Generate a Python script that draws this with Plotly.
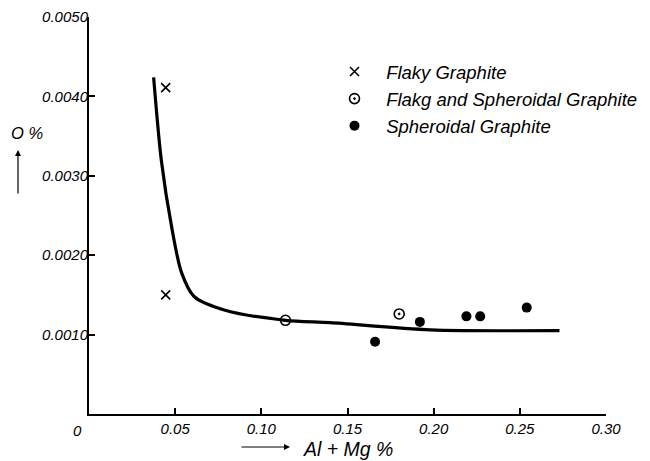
import plotly.graph_objects as go

# Data
flaky_x = [0.0445, 0.0445]
flaky_y = [0.00411, 0.00150]

mixed_x = [0.114, 0.180]
mixed_y = [0.00118, 0.00126]

spher_x = [0.166, 0.192, 0.219, 0.227, 0.254]
spher_y = [0.00091, 0.00116, 0.00123, 0.00123, 0.00134]

curve_x = [0.0375, 0.042, 0.048, 0.0537, 0.061, 0.0785, 0.114, 0.140, 0.198, 0.273]
curve_y = [0.00424, 0.00319, 0.00235, 0.00178, 0.00148, 0.00131, 0.00118, 0.00115, 0.00106, 0.00105]

x_ticks = [0.05, 0.10, 0.15, 0.20, 0.25, 0.30]
x_labels = ["0.05", "0.10", "0.15", "0.20", "0.25", "0.30"]
y_ticks = [0.0010, 0.0020, 0.0030, 0.0040, 0.0050]
y_labels = ["0.0010", "0.0020", "0.0030", "0.0040", "0.0050"]

FONT = "Liberation Sans, Arial"

# page body has an 8px margin; plot area target in window px: x 89..606, y 17..414
L, R, T, B = 89, 606, 17, 414
OFF = 8


def px(x):
    return (x - L) / (R - L)


def py(y):
    return (B - y) / (B - T)


NB = "\u00a0"

fig = go.Figure()
fig.add_trace(go.Scatter(x=curve_x, y=curve_y, mode="lines",
                         line=dict(color="black", width=3.2, shape="spline", smoothing=0.8),
                         showlegend=False, hoverinfo="skip"))
fig.add_trace(go.Scatter(x=flaky_x, y=flaky_y, mode="markers", name=NB + "Flaky Graphite", legendgroup="a",
                         marker=dict(symbol="x-thin", size=9, line=dict(color="black", width=1.6), color="black")))
fig.add_trace(go.Scatter(x=mixed_x, y=mixed_y, mode="markers", name=NB + "Flakg and Spheroidal Graphite",
                         legendgroup="b",
                         marker=dict(symbol="circle-open-dot", size=10, line=dict(color="black", width=1.6),
                                     color="black")))
fig.add_trace(go.Scatter(x=spher_x, y=spher_y, mode="markers", name=NB + "Spheroidal Graphite", legendgroup="c",
                         marker=dict(symbol="circle", size=10, color="black")))

fig.update_layout(
    width=650, height=461,
    margin=dict(l=L - OFF, r=650 - (R - OFF), t=T - OFF, b=461 - (B - OFF), autoexpand=False),
    plot_bgcolor="white", paper_bgcolor="white",
    font=dict(family=FONT, size=15, color="black", style="italic"),
    legend=dict(x=px(328), y=py(53), xanchor="left", yanchor="top", bgcolor="rgba(0,0,0,0)",
                traceorder="grouped", tracegroupgap=0, itemwidth=43,
                font=dict(size=18.5, style="italic")),
    xaxis=dict(range=[0, 0.30], tickvals=x_ticks, ticktext=x_labels, showline=True, linecolor="black",
               linewidth=2, ticks="inside", ticklen=6, tickwidth=1.5, tickcolor="black", showgrid=False,
               zeroline=False, automargin=False, ticklabeloverflow="allow",
               tickfont=dict(family=FONT, size=15, style="italic")),
    yaxis=dict(range=[0, 0.005], tickvals=y_ticks, ticktext=y_labels, showline=True, linecolor="black",
               linewidth=2, ticks="inside", ticklen=6, tickwidth=1.5, tickcolor="black", showgrid=False,
               zeroline=False, automargin=False, ticklabeloverflow="allow", ticklabelstandoff=-4,
               tickfont=dict(family=FONT, size=15, style="italic")),
)

# origin label, axis titles with arrows
fig.add_annotation(xref="paper", yref="paper", x=px(77), y=py(430), text="0", showarrow=False,
                   xanchor="center", yanchor="middle", font=dict(size=15, style="italic"))
fig.add_annotation(xref="paper", yref="paper", x=px(348), y=py(449), text="Al + Mg %",
                   xanchor="center", yanchor="middle", showarrow=False, font=dict(size=19.5, style="italic"))
fig.add_annotation(xref="paper", yref="paper", x=px(290), y=py(447), text="",
                   showarrow=True, ax=-50, ay=0, arrowhead=2, arrowsize=1, arrowwidth=1.2, arrowcolor="black")
fig.add_annotation(xref="paper", yref="paper", x=px(27), y=py(133), text="O %",
                   xanchor="center", yanchor="middle", showarrow=False, font=dict(size=16.5, style="italic"))
fig.add_annotation(xref="paper", yref="paper", x=px(18), y=py(150), text="",
                   showarrow=True, ax=0, ay=45, arrowhead=2, arrowsize=1, arrowwidth=1.2, arrowcolor="black")

fig.write_html("out.html")
